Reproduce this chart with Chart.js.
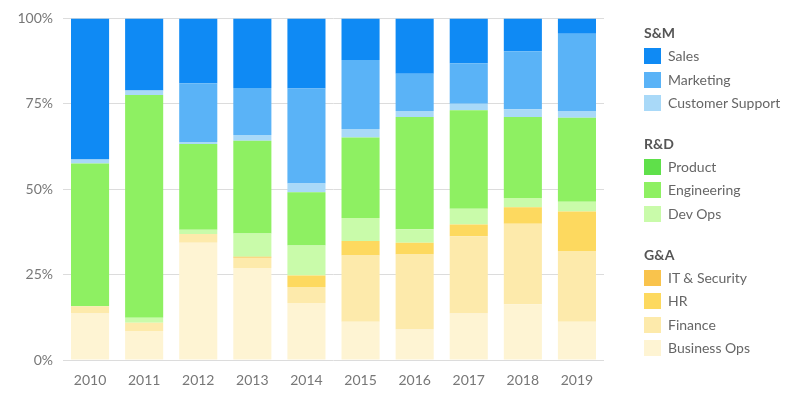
<!DOCTYPE html>
<html lang="en">
<head>
    <meta charset="UTF-8">
    <title>Spend by department</title>
    <script src="https://cdn.jsdelivr.net/npm/chart.js"></script>
    <style>
        body { margin: 0; background: #fff; font-family: Lato, sans-serif; }
        #wrap { position: relative; width: 800px; height: 404px; }
        #legend { position: absolute; left: 644px; top: 24px; color: #666; font-size: 14px; }
        .grp { font-weight: bold; color: #555; height: 18px; line-height: 18px; margin-bottom: 5px; }
        .item { height: 18px; line-height: 18px; margin-bottom: 5.6px; display: flex; align-items: center; }
        .item span.sw { width: 17px; height: 16px; margin-right: 7px; display: inline-block; }
        .gap { height: 17px; }
    </style>
</head>
<body>
<div id="wrap">
    <canvas id="myChart" width="800" height="404"></canvas>
    <div id="legend"></div>
</div>
<script>
    const years = ['2010', '2011', '2012', '2013', '2014', '2015', '2016', '2017', '2018', '2019'];
    const yTicks = [0, 25, 50, 75, 100];

    // share of spend, %
    const sales        = [41.3, 21.1, 19.0, 20.4, 20.5, 12.2, 16.2, 13.1, 9.6, 4.5];
    const marketing    = [0, 0, 17.2, 13.7, 27.8, 20.2, 10.9, 11.9, 17.0, 22.6];
    const custSupport  = [1.2, 1.3, 0.6, 1.7, 2.6, 2.5, 1.8, 1.9, 2.3, 2.0];
    const product      = [0, 0, 0, 0, 0, 0, 0, 0, 0, 0];
    const engineering  = [41.8, 65.2, 25.1, 27.2, 15.6, 23.5, 32.8, 28.8, 23.7, 24.6];
    const devOps       = [0, 1.5, 1.2, 6.8, 8.8, 6.8, 4.0, 4.6, 2.7, 2.8];
    const itSecurity   = [0, 0, 0, 0.3, 0, 0, 0, 0, 0, 0];
    const hr           = [0, 0, 0, 0, 3.3, 4.2, 3.4, 3.5, 4.8, 11.6];
    const finance      = [2.1, 2.4, 2.6, 3.0, 4.7, 19.4, 22.0, 22.6, 23.6, 20.7];
    const businessOps  = [13.6, 8.5, 34.3, 26.9, 16.7, 11.2, 8.9, 13.6, 16.3, 11.2];

    const groups = [
        { name: 'S&M', items: [['Sales', sales, '#0f8af4'], ['Marketing', marketing, '#5ab3f7'], ['Customer Support', custSupport, '#a9d9f8']] },
        { name: 'R&D', items: [['Product', product, '#5fe04a'], ['Engineering', engineering, '#8ef062'], ['Dev Ops', devOps, '#c9fbaa']] },
        { name: 'G&A', items: [['IT & Security', itSecurity, '#f9c34c'], ['HR', hr, '#fdd95f'], ['Finance', finance, '#fdeaab'], ['Business Ops', businessOps, '#fef4d3']] }
    ];

    // stack bottom-up = legend order reversed
    const datasets = [];
    groups.forEach(g => g.items.forEach(it => {
        datasets.unshift({ label: it[0], data: it[1], backgroundColor: it[2], borderWidth: 0,
            barPercentage: 0.88, categoryPercentage: 0.8 });
    }));

    // html legend with group headers
    const legend = document.getElementById('legend');
    groups.forEach((g, i) => {
        if (i > 0) legend.insertAdjacentHTML('beforeend', '<div class="gap"></div>');
        legend.insertAdjacentHTML('beforeend', '<div class="grp">' + g.name.replace('&', '&amp;') + '</div>');
        g.items.forEach(it => {
            legend.insertAdjacentHTML('beforeend',
                '<div class="item"><span class="sw" style="background:' + it[2] + '"></span>' + it[0].replace('&', '&amp;') + '</div>');
        });
    });

    Chart.defaults.font.family = 'Lato, sans-serif';
    Chart.defaults.font.size = 14;
    Chart.defaults.color = '#777';

    new Chart(document.getElementById('myChart').getContext('2d'), {
        type: 'bar',
        data: { labels: years, datasets: datasets },
        options: {
            responsive: false,
            animation: false,
            layout: { padding: { left: 8, right: 196, top: 17, bottom: 0 } },
            plugins: { legend: { display: false }, tooltip: { enabled: false } },
            scales: {
                x: {
                    stacked: true,
                    grid: { display: false },
                    border: { display: false },
                    ticks: { padding: 4 },
                    afterFit: s => { s.height = 44; }
                },
                y: {
                    stacked: true,
                    min: 0,
                    max: 100,
                    afterBuildTicks: s => { s.ticks = yTicks.map(v => ({ value: v })); },
                    ticks: { callback: v => v + '%', padding: 10 },
                    grid: { color: '#dcdcdc', drawTicks: false },
                    border: { display: false },
                    afterFit: s => { s.width = 55; }
                }
            }
        }
    });
</script>
</body>
</html>
